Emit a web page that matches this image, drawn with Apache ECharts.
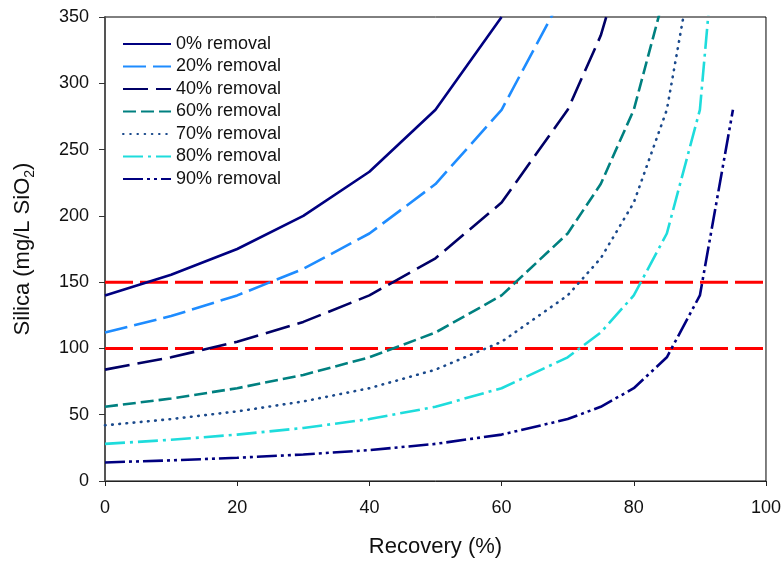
<!DOCTYPE html>
<html>
<head>
<meta charset="utf-8">
<script src="https://cdn.jsdelivr.net/npm/echarts@6/dist/echarts.min.js"></script>
<style>html,body{margin:0;padding:0;background:#fff}#c{width:784px;height:563px}</style>
</head>
<body>
<div id="c"></div>
<script>
// Recovery (%) sample points
var recovery = [0, 10, 20, 30, 40, 50, 60, 70, 75, 80, 85, 90, 95];
// Silica (mg/L SiO2) per removal level, read at the recovery points above
var removal0  = [140, 155.6, 175, 200, 233.3, 280, 350];
var removal20 = [112, 124.4, 140, 160, 186.7, 224, 280, 373.3];
var removal40 = [84, 93.3, 105, 120, 140, 168, 210, 280, 336, 420];
var removal60 = [56, 62.2, 70, 80, 93.3, 112, 140, 186.7, 224, 280, 373.3];
var removal70 = [42, 46.7, 52.5, 60, 70, 84, 105, 140, 168, 210, 280, 420];
var removal80 = [28, 31.1, 35, 40, 46.7, 56, 70, 93.3, 112, 140, 186.7, 280, 560];
var removal90 = [14, 15.6, 17.5, 20, 23.3, 28, 35, 46.7, 56, 70, 93.3, 140, 280];
var seriesNames = ['0% removal', '20% removal', '40% removal', '60% removal', '70% removal', '80% removal', '90% removal'];
var limits = [150, 100];
var xRange = [0, 100];

var FONT = '"Liberation Sans", Arial, sans-serif';
function pts(vals) { return vals.map(function (v, i) { return [recovery[i], v]; }); }

var styles = [
  { color: '#000080', type: 'solid', cap: 'butt' },
  { color: '#1E8CFF', type: [23, 7], cap: 'butt' },
  { color: '#000066', type: [25, 8], cap: 'butt' },
  { color: '#008080', type: [13, 5], cap: 'butt' },
  { color: '#1B4A8C', type: [0.6, 6.6], cap: 'round' },
  { color: '#1EDCDC', type: [20, 5, 3, 5], cap: 'butt' },
  { color: '#000080', type: [20, 4, 3, 4, 3, 4], cap: 'butt' }
];
var allVals = [removal0, removal20, removal40, removal60, removal70, removal80, removal90];

var series = allVals.map(function (vals, i) {
  return {
    name: seriesNames[i], type: 'line', data: pts(vals), symbol: 'none',
    clip: true, z: 3,
    lineStyle: { color: styles[i].color, width: 2.6, type: styles[i].type, cap: styles[i].cap },
    itemStyle: { color: styles[i].color }
  };
});
limits.forEach(function (l, k) {
  series.push({
    name: 'limit' + k, type: 'line', symbol: 'none', z: 2,
    data: xRange.map(function (x) { return [x, l]; }),
    lineStyle: { color: '#FF0000', width: 3, type: [28, 7] }
  });
});

var chart = echarts.init(document.getElementById('c'), null, { renderer: 'canvas' });
chart.setOption({
  animation: false,
  backgroundColor: '#fff',
  textStyle: { fontFamily: FONT },
  grid: { left: 105, right: 18, top: 17, bottom: 81, show: true, borderColor: '#000', borderWidth: 1 },
  legend: {
    data: seriesNames, orient: 'vertical', left: 117, top: 29,
    itemWidth: 48, itemHeight: 14, itemGap: 2.5,
    itemStyle: { opacity: 0 },
    textStyle: { fontSize: 18, color: '#111', fontFamily: FONT, lineHeight: 20 }
  },
  xAxis: {
    type: 'value', min: 0, max: 100, interval: 20,
    name: 'Recovery (%)', nameLocation: 'middle', nameGap: 55,
    nameTextStyle: { fontSize: 22, color: '#111', fontFamily: FONT },
    axisLine: { lineStyle: { color: '#222', width: 1 } },
    axisTick: { show: true, length: 5, lineStyle: { color: '#222' } },
    axisLabel: { fontSize: 18, color: '#111', margin: 18, fontFamily: FONT },
    splitLine: { show: false }
  },
  yAxis: {
    type: 'value', min: 0, max: 350, interval: 50,
    name: 'Silica (mg/L SiO{sub|2})', nameLocation: 'middle', nameGap: 68, nameRotate: 90,
    nameTextStyle: { fontSize: 22, color: '#111', fontFamily: FONT,
      rich: { sub: { fontSize: 14, fontFamily: FONT, color: '#111', padding: [14, 0, 0, 0] } } },
    axisLine: { show: true, lineStyle: { color: '#555', width: 2 } },
    axisTick: { show: true, length: 6, lineStyle: { color: '#333' } },
    axisLabel: { fontSize: 18, color: '#111', margin: 16, fontFamily: FONT },
    splitLine: { show: false }
  },
  series: series
});
</script>
</body>
</html>
